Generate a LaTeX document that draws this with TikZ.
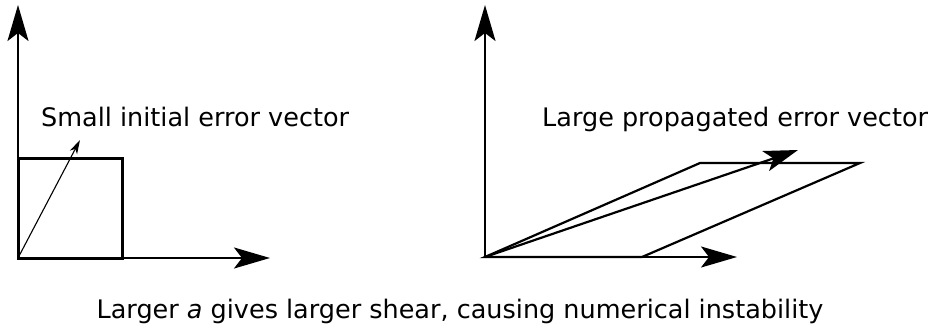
\documentclass[tikz,border=0pt]{standalone}
\usepackage{fontspec}
\setmainfont{DejaVu Sans}
\usetikzlibrary{arrows.meta}
\begin{document}
\begin{tikzpicture}[x=1pt,y=-1pt,
  axis/.style={line width=2.2pt,-{Stealth[length=36pt,width=21pt,inset=8pt]}},
  box/.style={line width=3pt},
  para/.style={line width=2.2pt,line join=miter},
  svec/.style={line width=1.1pt,-{Stealth[length=14pt,width=8pt,inset=4pt]}},
  lvec/.style={line width=2.2pt,-{Stealth[length=34pt,width=21pt,inset=8pt]}},
  lbl/.style={font=\fontsize{25.5}{30}\selectfont,inner sep=0pt}]
\useasboundingbox (0,0) rectangle (931,324);
% left
\coordinate (O1) at (18,258);
\coordinate (Y1) at (18,5);
\coordinate (X1) at (270,258);
\coordinate (S1) at (122,158);
\coordinate (V1) at (80,140);
\draw[axis] (O1) -- (Y1);
\draw[axis] (O1) -- (X1);
\draw[box] (O1) rectangle (S1);
\draw[svec] (O1) -- (V1);
\node[lbl,anchor=base west] (t1) at (41,126) {Small initial error vector};
% right
\coordinate (O2) at (485,257);
\coordinate (Y2) at (485,5);
\coordinate (X2) at (737,257);
\coordinate (P1) at (642,257);
\coordinate (P2) at (860,163);
\coordinate (P3) at (700,163);
\coordinate (V2) at (798,150);
\draw[axis] (O2) -- (Y2);
\draw[para] (O2) -- (P1) -- (P2) -- (P3) -- cycle;
\draw[axis] (O2) -- (X2);
\draw[lvec] (O2) -- (V2);
\node[lbl,anchor=base west] (t2) at (542,126) {Large propagated error vector};
% caption
\node[lbl,anchor=base] (cap) at (460,318) {Larger \textit{a} gives larger shear, causing numerical instability};
\end{tikzpicture}
\end{document}
